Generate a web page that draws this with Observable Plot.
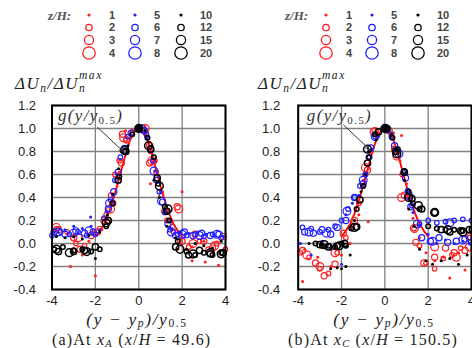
<!DOCTYPE html>
<html><head><meta charset="utf-8">
<script src="https://cdn.jsdelivr.net/npm/d3@7"></script>
<script src="https://cdn.jsdelivr.net/npm/@observablehq/plot@0.6"></script>
<style>
body{margin:0;background:#fff;}
#root{position:relative;width:472px;height:348px;overflow:hidden;background:#fff;}
.abs{position:absolute;white-space:nowrap;line-height:1;color:#222;}
.m{font-family:"Liberation Serif","DejaVu Serif",serif;font-style:italic;}
.r{font-family:"Liberation Serif","DejaVu Serif",serif;font-style:normal;}
sub.s{font-size:0.66em;vertical-align:-0.15em;font-style:normal;line-height:0;}
sub.si{font-size:0.68em;vertical-align:-0.25em;line-height:0;}
sub.sx{font-size:0.66em;vertical-align:-0.15em;line-height:0;}
sub.sc{font-size:0.66em;vertical-align:-0.15em;line-height:0;}
.ss{display:inline-block;position:relative;}
.ss .sup{position:absolute;top:-0.45em;left:0;font-size:0.68em;}
.ss .sb{font-size:0.68em;position:relative;top:0.3em;}
</style></head><body><div id="root"></div>
<script>
// ---------- data ----------
const zLevels = [1,2,3,4,5,6,7,8,10,12,15,20];
const xTicks = [-4,-2,0,2,4];
const yTicks = [-0.4,-0.2,0,0.2,0.4,0.6,0.8,1.0,1.2];
// reference curve g(y/y0.5)
const gX = [-2.0,-1.8,-1.6,-1.4,-1.2,-1.0,-0.8,-0.6,-0.4,-0.2,0,0.2,0.4,0.6,0.8,1.0,1.2,1.4,1.6,1.8,2.0];
const gY = [0.06,0.11,0.17,0.26,0.37,0.50,0.64,0.78,0.90,0.97,1.0,0.97,0.90,0.78,0.64,0.50,0.37,0.26,0.17,0.11,0.06];

// panel (a) x/H = 49.6
const a1 = [[-3.9,0.12],[-3.15,-0.2],[-2.6,-0.1],[-2.0,-0.28],[-2.3,0.02],[-1.7,0.12],[-1.3,0.19],[-1.25,0.35],[-1.0,0.5],[-0.9,0.62],[-0.7,0.72],[-0.61,0.98],[-0.3,0.99],[0,1.0],[0.3,0.97],[0.5,0.88],[0.8,0.72],[0.54,0.52],[1.1,0.45],[1.4,0.2],[2.0,0.45],[1.8,-0.05],[2.46,-0.03],[2.46,-0.15],[3.07,-0.16],[3.68,-0.19],[3.0,0.02]];
const a2 = [[-3.8,0.13],[-3.3,0.1],[-2.9,0.0],[-2.5,-0.02],[-2.1,0.09],[-1.8,0.13],[-1.5,0.25],[-1.3,0.42],[-1.1,0.6],[-0.9,0.72],[-0.6,0.9],[-0.3,0.97],[0,1.0],[0.3,0.97],[0.55,0.8],[0.8,0.62],[1.05,0.42],[1.3,0.2],[1.6,0.1],[1.9,0.02],[2.3,-0.03],[2.8,0.02],[3.2,-0.05],[3.6,0.0],[4.0,-0.05]];
const a3 = [[-3.7,0.12],[-3.0,0.05],[-2.7,-0.05],[-2.2,0.07],[-1.9,0.1],[-1.6,0.2],[-1.2,0.35],[-0.8,0.7],[-0.75,0.95],[-0.55,0.9],[0.2,1.0],[0.5,0.85],[0.5,0.7],[0.7,0.72],[1.2,0.28],[1.55,0.14],[1.77,0.32],[2.0,0.02],[2.6,0.08],[3.0,0.02],[3.4,-0.04],[3.9,0.06]];
const a4 = [[-3.8,0.14],[-2.8,0.05],[-1.3,0.3],[-0.7,0.92],[0.3,1.0],[0.6,0.72],[1.85,0.3],[2.5,0.0],[3.5,-0.02]];
const a5 = [[-3.9,0.1],[-3.4,0.12],[-3.0,0.15],[-2.6,0.13],[-2.22,0.23],[-2.2,0.15],[-1.8,0.12],[-1.5,0.28],[-1.2,0.42],[-1.0,0.6],[-0.7,0.82],[-0.4,0.95],[0.1,1.0],[0.4,0.92],[0.75,0.63],[1.0,0.45],[1.2,0.3],[1.5,0.12],[1.9,0.1],[2.3,0.09],[2.7,0.1],[3.1,0.08],[3.5,0.07],[3.9,0.06]];
const a6 = [[-4.0,0.07],[-3.6,0.1],[-3.2,0.08],[-2.8,0.1],[-2.4,0.07],[-2.0,0.08],[-1.6,0.22],[-1.3,0.38],[-1.1,0.55],[-0.85,0.75],[-0.5,0.93],[0,1.0],[0.35,0.95],[0.65,0.72],[0.95,0.45],[1.2,0.27],[1.45,0.12],[1.8,0.08],[2.2,0.07],[2.6,0.08],[3.0,0.06],[3.4,0.08],[3.8,0.05]];
const a7 = [[-3.9,0.1],[-3.4,0.08],[-2.9,0.11],[-2.5,0.09],[-2.1,0.1],[-1.4,0.3],[-1.15,0.45],[-0.95,0.62],[-0.6,0.8],[-0.35,0.96],[0.25,0.98],[0.55,0.82],[0.85,0.55],[1.1,0.36],[1.35,0.17],[1.7,0.07],[2.1,0.1],[2.5,0.07],[2.9,0.09],[3.3,0.07],[3.7,0.08]];
const a8 = [[-3.7,0.1],[-3.0,0.09],[-2.3,0.11],[-1.35,0.35],[-0.65,0.82],[0.1,1.0],[0.7,0.63],[1.05,0.37],[1.5,0.1],[2.0,0.08],[2.8,0.07],[3.6,0.08]];
const a10 = [[-3.8,0.06],[-3.4,0.05],[-3.0,0.06],[-2.6,0.04],[-2.3,0.07],[-2.0,-0.13],[-1.8,0.1],[-1.45,0.25],[-1.2,0.43],[-0.93,0.65],[-0.8,0.8],[-0.5,0.85],[0,1.0],[0.3,0.98],[0.6,0.85],[0.7,0.55],[0.95,0.4],[1.3,0.15],[1.7,0.05],[2.2,-0.05],[2.6,0.0],[3.0,-0.02],[3.4,-0.04],[3.8,0.02]];
const a12 = [[-3.9,-0.05],[-3.5,-0.03],[-3.0,-0.06],[-2.6,-0.05],[-2.2,-0.07],[-1.8,-0.05],[-1.5,0.15],[-1.2,0.35],[-0.9,0.58],[-0.65,0.8],[-0.3,0.95],[0,1.0],[0.4,0.92],[0.7,0.75],[0.9,0.52],[1.2,0.32],[1.4,0.2],[1.8,0.02],[2.2,-0.07],[2.6,-0.1],[3.0,-0.08],[3.4,-0.1],[3.8,-0.08]];
const a15 = [[-3.7,-0.07],[-3.0,-0.07],[-2.5,-0.06],[-2.0,-0.03],[-1.4,0.2],[-0.95,0.55],[-0.6,0.8],[0,1.0],[0.55,0.82],[0.85,0.57],[1.3,0.28],[1.7,-0.03],[2.3,-0.1],[2.8,-0.06],[3.3,-0.09],[3.9,-0.08]];
const a20 = [[-3.8,-0.05],[-3.2,-0.08],[-2.4,-0.07],[-1.5,0.18],[-0.65,0.81],[0,1.0],[0.45,0.85],[0.95,0.5],[1.35,0.3],[1.9,-0.05],[2.5,-0.09],[3.3,-0.08],[3.8,-0.09]];

// panel (b) x/H = 150.5
const b1 = [[-3.8,-0.33],[-3.7,-0.05],[-3.1,-0.12],[-2.5,-0.2],[-2.0,-0.1],[-1.6,0.0],[-1.2,0.25],[-0.77,0.19],[-1.0,0.55],[-0.7,0.8],[-0.4,0.93],[0,1.0],[0.4,0.96],[0.77,0.94],[0.7,0.72],[1.0,0.52],[1.3,0.22],[1.6,0.05],[1.9,-0.08],[2.3,-0.15],[2.7,-0.12],[3.0,-0.3],[3.4,-0.08],[3.7,-0.23],[4.0,-0.05]];
const b2 = [[-3.9,-0.08],[-3.5,-0.12],[-3.0,-0.22],[-2.6,-0.26],[-2.2,-0.08],[-1.8,0.05],[-1.5,0.15],[-1.2,0.35],[-0.9,0.6],[-0.65,0.8],[-0.3,0.98],[0,1.0],[0.3,0.95],[0.5,0.82],[0.8,0.6],[1.1,0.4],[1.35,0.13],[1.6,-0.02],[1.9,-0.17],[2.3,-0.22],[2.7,-0.13],[3.1,-0.1],[3.5,-0.04],[3.9,0.05]];
const b3 = [[-3.8,-0.06],[-3.2,-0.17],[-2.8,-0.28],[-2.3,-0.18],[-1.92,0.09],[-1.4,0.2],[-0.8,0.64],[-0.45,0.98],[0.2,0.98],[0.45,0.82],[0.9,0.42],[1.43,0.01],[1.8,-0.17],[2.3,-0.12],[2.8,-0.04],[3.2,-0.08],[3.7,-0.06],[3.9,0.06]];
const b4 = [[-3.6,-0.1],[-3.0,-0.2],[-2.3,-0.08],[-0.9,0.66],[-0.5,0.97],[0.77,0.4],[0.55,0.76],[1.36,0.13],[2.3,-0.03],[3.3,-0.12],[3.9,-0.03]];
const b5 = [[-3.9,0.0],[-3.4,-0.1],[-2.9,0.02],[-2.5,-0.05],[-2.0,-0.18],[-1.8,0.25],[-1.5,0.35],[-1.2,0.42],[-0.9,0.6],[-0.6,0.82],[-0.3,0.93],[0,1.0],[0.3,0.96],[0.6,0.82],[0.85,0.6],[1.0,0.45],[1.3,0.27],[1.6,0.16],[2.0,0.08],[2.4,0.0],[2.8,0.03],[3.2,0.0],[3.6,0.02],[3.9,0.0]];
const b6 = [[-3.8,0.14],[-3.4,0.13],[-3.0,0.1],[-2.6,0.12],[-2.3,0.15],[-2.0,0.2],[-1.7,0.3],[-1.4,0.4],[-1.15,0.5],[-0.9,0.6],[-0.7,0.75],[-0.45,0.93],[0,1.0],[0.3,0.93],[0.55,0.82],[0.85,0.62],[1.05,0.46],[1.25,0.33],[1.6,0.17],[2.0,0.2],[2.4,0.18],[2.8,0.19],[3.2,0.2],[3.6,0.21],[4.0,0.2]];
const b7 = [[-3.7,0.1],[-3.3,0.09],[-2.9,0.12],[-2.5,0.08],[-2.2,0.14],[-1.8,0.2],[-1.4,0.4],[-1.0,0.52],[-0.65,0.83],[0.1,0.99],[0.45,0.85],[0.95,0.57],[1.2,0.32],[1.7,0.05],[2.1,0.02],[2.5,0.05],[2.9,0.01],[3.3,0.02],[3.7,0.04],[4.0,0.01]];
const b8 = [[-3.5,0.1],[-2.7,0.09],[-1.75,0.28],[-1.0,0.55],[-0.45,0.93],[0.05,1.0],[0.65,0.78],[1.1,0.42],[1.5,0.17],[2.2,0.02],[3.0,0.18],[3.6,0.03]];
const b10 = [[-3.5,0.0],[-2.9,-0.01],[-2.5,-0.22],[-2.2,-0.21],[-2.0,-0.22],[-1.8,-0.2],[-1.6,-0.1],[-1.4,0.2],[-1.1,0.45],[-0.9,0.6],[-0.75,0.8],[-0.4,0.9],[0,1.0],[0.3,0.95],[0.6,0.78],[0.9,0.55],[1.1,0.3],[1.35,0.15],[1.6,-0.05],[1.9,-0.15],[2.2,-0.18],[2.6,-0.15],[3.0,-0.13],[3.4,-0.18],[3.8,-0.1]];
const b12 = [[-3.2,0.0],[-2.9,-0.02],[-2.6,-0.02],[-2.3,-0.03],[-2.0,0.0],[-1.8,-0.02],[-1.55,0.13],[-1.3,0.3],[-1.0,0.5],[-0.75,0.75],[-0.45,0.95],[0,1.0],[0.35,0.92],[0.6,0.82],[0.9,0.63],[1.1,0.45],[1.3,0.35],[1.6,0.3],[2.0,0.15],[2.4,0.13],[2.8,0.12],[3.2,0.12],[3.6,0.11],[4.0,0.12]];
const b15 = [[-3.0,-0.01],[-2.6,-0.03],[-2.2,-0.02],[-1.85,0.0],[-1.3,0.145],[-1.15,0.38],[-0.8,0.7],[-0.3,0.97],[0.1,1.0],[0.5,0.8],[0.9,0.62],[1.25,0.39],[1.7,0.3],[2.3,0.27],[2.6,0.12],[3.0,0.1],[3.5,0.11],[3.9,0.12]];
const b20 = [[-2.8,-0.01],[-2.1,-0.02],[-1.4,0.14],[-0.8,0.82],[0.0,1.0],[0.55,0.78],[1.1,0.4],[1.55,0.33],[2.3,0.27],[2.9,0.12],[3.6,0.1]];

// annotation: label position and arrow (data units)
const annA = {tx:-3.72, ty:1.115, x1:-1.9, y1:1.01, x2:-0.72, y2:0.8};
const annB = {tx:-3.6, ty:1.115, x1:-1.9, y1:1.03, x2:-0.72, y2:0.82};

// ---------- styling ----------
const colors = ["#ff1f1f", "#2020ff", "#000000"];
const plotR = [1.5, 2.3, 3.1, 3.9];
const legR = [1.6, 3.2, 4.6, 6.2];
function styleOf(i){ return {color: colors[Math.floor(i/4)], kind: i%4}; }

const seriesA = [a1,a2,a3,a4,a5,a6,a7,a8,a10,a12,a15,a20];
const seriesB = [b1,b2,b3,b4,b5,b6,b7,b8,b10,b12,b15,b20];
const curve = gX.map((x,i)=>({x, y:gY[i]}));

function panel(series, ann, ml, mr, tp){
  const marks = [
    Plot.ruleX(xTicks, {stroke:"#808080", strokeWidth:1.3}),
    Plot.ruleY(yTicks, {stroke:"#808080", strokeWidth:1.3}),
    Plot.line(curve, {x:"x", y:"y", stroke:"#ff0000", strokeWidth:1.8}),
  ];
  series.forEach((arr,i)=>{
    const s = styleOf(i);
    const rows = arr.map(([x,y])=>({x,y}));
    if (s.kind === 0) marks.push(Plot.dot(rows, {x:"x", y:"y", r:plotR[0], fill:s.color, stroke:"none"}));
    else marks.push(Plot.dot(rows, {x:"x", y:"y", r:plotR[s.kind], fill:"none", stroke:s.color, strokeWidth: i>=8 ? 1.5 : 1.2}));
  });
  marks.push(Plot.arrow([ann], {x1:"x1", y1:"y1", x2:"x2", y2:"y2", stroke:"#333", strokeWidth:1, headLength:6, headAngle:50}));
  marks.push(Plot.text([ann], {x:"tx", y:"ty", text:()=>"g(y/y0.5)", textAnchor:"start", fontSize:17, fontStyle:"italic", fontFamily:"Liberation Serif, DejaVu Serif, serif", fill:"#333"}));
  marks.push(Plot.frame({stroke:"#000", strokeWidth:2}));
  const svg = Plot.plot({
    width:236, height:230, marginTop:10, marginBottom:36, marginLeft:ml, marginRight:mr,
    x:{domain:[-4,4], ticks:xTicks, tickFormat:d=>String(d), tickSize:0, tickPadding:6, label:null},
    y:{domain:[-0.4,1.2], ticks:yTicks, tickFormat:d=>d.toFixed(1), tickSize:0, tickPadding:tp, label:null},
    style:{fontFamily:"Liberation Sans, Arial, sans-serif", fontSize:"13px", color:"#222", background:"transparent", overflow:"visible"},
    marks
  });
  svg.querySelectorAll("text").forEach(t=>{
    if (t.textContent === "g(y/y0.5)") {
      t.setAttribute("letter-spacing", "1.3");
      t.innerHTML = 'g(y/y<tspan font-size="11" dy="3" font-style="normal">0.5</tspan><tspan dy="-3">)</tspan>';
    }
  });
  return svg;
}

const root = document.getElementById("root");
function place(el, left, top){ el.style.position="absolute"; el.style.left=left+"px"; el.style.top=top+"px"; root.appendChild(el); }

place(panel(seriesA, annA, 51.5, 11, 16), 0, 95);
place(panel(seriesB, annB, 61.7, 1, 18), 236, 95);

// ---------- text ----------
function html(s, left, top, extra){ const d=document.createElement("div"); d.className="abs"; d.innerHTML=s; d.style.left=left+"px"; d.style.top=top+"px"; if(extra) Object.assign(d.style, extra); root.appendChild(d); return d; }
const yTitle = '<span class="m" style="font-size:17px;letter-spacing:1.5px">ΔU<sub class="si">n</sub>/ΔU<span class="ss"><span class="sup">max</span><span class="sb">n</span></span></span>';
html(yTitle, 15, 75);
html(yTitle, 258, 75);
const xTitle = '<span class="m" style="font-size:17.5px;letter-spacing:1.6px">(y − y<sub class="sx">p</sub>)/y<sub class="s">0.5</sub></span>';
html(xTitle, 137, 310.5, {transform:"translateX(-50%)"});
html(xTitle, 384, 310.5, {transform:"translateX(-50%)"});
html('<span class="r" style="font-size:16px;letter-spacing:1.2px">(a)At <span class="m">x<sub class="sc">A</sub></span>&nbsp;(<span class="m">x</span>/<span class="m">H</span> = 49.6)</span>', 52, 331.5);
html('<span class="r" style="font-size:16px;letter-spacing:1.2px">(b)At <span class="m">x<sub class="sc">C</sub></span>&nbsp;(<span class="m">x</span>/<span class="m">H</span> = 150.5)</span>', 288, 331.5);

// ---------- legends ----------
const legSvg = d3.select(root).append("svg").attr("width",472).attr("height",70)
  .style("position","absolute").style("left","0px").style("top","0px");
const rowsY = [15, 27.5, 40, 53];
const colX = [89, 135, 181];
const labX = [112, 157, 200];
[0, 237].forEach(ox=>{
  legSvg.append("text").attr("x", ox+48).attr("y", 15).attr("dy","0.35em")
    .attr("font-family","Liberation Serif, serif").attr("font-style","italic").attr("font-weight","bold")
    .attr("font-size",13).attr("fill","#555").text("z/H:");
  zLevels.forEach((z,i)=>{
    const s = styleOf(i), col = Math.floor(i/4), row = i%4;
    const c = legSvg.append("circle").attr("cx", ox+colX[col]).attr("cy", rowsY[row]).attr("r", legR[row]);
    if (row===0) c.attr("fill", s.color);
    else c.attr("fill","none").attr("stroke", s.color).attr("stroke-width", 1.3);
    legSvg.append("text").attr("x", ox+labX[col]).attr("y", rowsY[row]).attr("dy","0.35em")
      .attr("text-anchor", col===2 ? "start" : "middle")
      .attr("font-family","Liberation Sans, Arial, sans-serif").attr("font-weight","bold")
      .attr("font-size",11).attr("fill","#444").text(z);
  });
});
</script></body></html>
